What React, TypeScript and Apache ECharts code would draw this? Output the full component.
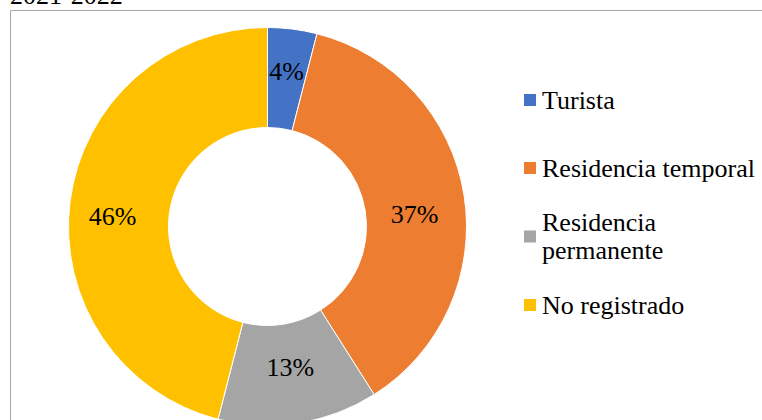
import React, { useEffect, useRef } from "react";
import * as echarts from "echarts";

const categories = ["Turista", "Residencia temporal", "Residencia permanente", "No registrado"];
const values = [4, 37, 13, 46];
const colors = ["#4472C4", "#ED7D31", "#A5A5A5", "#FFC000"];
const titleText = "2021-2022";

const FONT = "Liberation Serif";
// label nudges to mimic the original placement (style, not data)
const labelOffsets = [[0, -4], [-3, 12], [-1, -9], [-4, 9]];

export default function App() {
  const ref = useRef<HTMLDivElement>(null);
  useEffect(() => {
    if (!ref.current) return;
    const chart = echarts.init(ref.current, null, { renderer: "svg" });
    const legendTops = [86, 154, 194.5, 291];
    const legends = categories.map((name, i) => ({
      data: [name],
      left: 522,
      top: legendTops[i],
      orient: "vertical",
      selectedMode: false,
      icon: "rect",
      itemWidth: 14,
      itemHeight: 14,
      padding: 0,
      formatter: (n: string) => (n === "Residencia permanente" ? "Residencia\npermanente" : n),
      textStyle: {
        fontFamily: FONT,
        fontSize: 26,
        lineHeight: 28,
        color: "#000",
        padding: name === "Residencia permanente" ? [28, 0, 0, 0] : 0,
      },
    }));
    chart.setOption({
      animation: false,
      backgroundColor: "#fff",
      textStyle: { fontFamily: FONT },
      title: {
        text: titleText,
        left: 10,
        top: -18,
        padding: 0,
        textStyle: { fontFamily: FONT, fontSize: 26, fontWeight: "normal", color: "#000" },
      },
      graphic: [
        {
          type: "rect",
          shape: { x: 10.5, y: 10.5, width: 900, height: 600 },
          style: { fill: "none", stroke: "#A6A6A6", lineWidth: 1 },
          silent: true,
          z: -1,
        },
      ],
      legend: legends,
      series: [
        {
          type: "pie",
          center: [267.5, 226.5],
          radius: [99, 199],
          startAngle: 90,
          clockwise: true,
          data: categories.map((name, i) => ({
            name,
            value: values[i],
            itemStyle: { color: colors[i] },
            label: { offset: labelOffsets[i] },
          })),
          itemStyle: { borderColor: "#fff", borderWidth: 1 },
          label: {
            show: true,
            position: "inside",
            formatter: "{c}%",
            fontFamily: FONT,
            fontSize: 26,
            color: "#000",
          },
          labelLine: { show: false },
          emphasis: { disabled: true },
        },
      ],
    });
    return () => chart.dispose();
  }, []);
  return (
    <div
      ref={ref}
      style={{ position: "fixed", left: 0, top: 0, width: 762, height: 420, background: "#fff" }}
    />
  );
}
